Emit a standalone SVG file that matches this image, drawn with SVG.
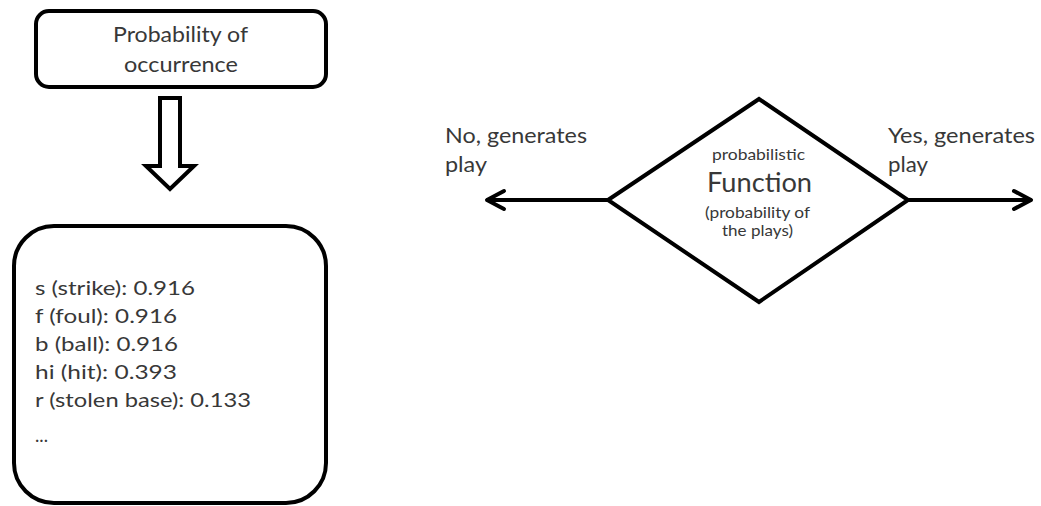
<svg xmlns="http://www.w3.org/2000/svg" width="1041" height="506" viewBox="0 0 1041 506">
  <style>
    .box { fill: #ffffff; stroke: #000000; stroke-width: 4; }
    .line { fill: none; stroke: #000000; stroke-width: 4; stroke-linecap: round; stroke-linejoin: round; }
    .txt { font-family: Lato, "Open Sans", "Liberation Sans", sans-serif; fill: #383838; }
    .lbl { font-size: 21px; }
    .list { font-size: 20px; }
    .small { font-size: 16px; }
    .big { font-size: 26px; }
  </style>
  <rect width="1041" height="506" fill="#ffffff"/>

  <!-- header box -->
  <g id="node-probability">
    <rect class="box" x="36" y="11" width="290" height="76" rx="13" ry="13"/>
    <text class="txt lbl" x="113" y="42" textLength="135" lengthAdjust="spacingAndGlyphs">Probability of</text>
    <text class="txt lbl" x="124" y="72" textLength="114" lengthAdjust="spacingAndGlyphs">occurrence</text>
  </g>

  <!-- hollow block arrow pointing down -->
  <g id="node-down-arrow">
    <path class="box" d="M160 98 L180 98 L180 166 L194 166 L170 189 L146 166 L160 166 Z" stroke-width="3.5" stroke-linejoin="miter"/>
  </g>

  <!-- list of event probabilities -->
  <g id="node-events">
    <rect class="box" x="14" y="226" width="312" height="277" rx="40" ry="40"/>
    <text class="txt list" x="35" y="295" textLength="160" lengthAdjust="spacingAndGlyphs">s (strike): 0.916</text>
    <text class="txt list" x="35" y="323" textLength="142" lengthAdjust="spacingAndGlyphs">f (foul): 0.916</text>
    <text class="txt list" x="35" y="351" textLength="143" lengthAdjust="spacingAndGlyphs">b (ball): 0.916</text>
    <text class="txt list" x="35" y="379" textLength="142" lengthAdjust="spacingAndGlyphs">hi (hit): 0.393</text>
    <text class="txt list" x="35" y="407" textLength="216" lengthAdjust="spacingAndGlyphs">r (stolen base): 0.133</text>
    <text class="txt list" x="35" y="442" textLength="13" lengthAdjust="spacingAndGlyphs">...</text>
  </g>

  <!-- decision diamond -->
  <g id="node-function">
    <polygon class="box" points="608,200 759,99 908,200 759,302"/>
    <text class="txt small" x="712" y="160" textLength="93" lengthAdjust="spacingAndGlyphs">probabilistic</text>
    <text class="txt big" x="707" y="192" textLength="105" lengthAdjust="spacingAndGlyphs">Function</text>
    <text class="txt small" x="705" y="218" textLength="105" lengthAdjust="spacingAndGlyphs">(probability of</text>
    <text class="txt small" x="722" y="236" textLength="71" lengthAdjust="spacingAndGlyphs">the plays)</text>
  </g>

  <!-- outgoing branches -->
  <g id="connectors">
    <line class="line" x1="608" y1="200" x2="488" y2="200"/>
    <polyline class="line" points="504,191 487,200 504,209"/>
    <line class="line" x1="908" y1="200" x2="1030" y2="200"/>
    <polyline class="line" points="1014,191 1031,200 1014,209"/>
  </g>

  <g id="label-no">
    <text class="txt lbl" x="445" y="143" textLength="142" lengthAdjust="spacingAndGlyphs">No, generates</text>
    <text class="txt lbl" x="445" y="172" textLength="42" lengthAdjust="spacingAndGlyphs">play</text>
  </g>
  <g id="label-yes">
    <text class="txt lbl" x="888" y="143" textLength="147" lengthAdjust="spacingAndGlyphs">Yes, generates</text>
    <text class="txt lbl" x="888" y="172" textLength="40" lengthAdjust="spacingAndGlyphs">play</text>
  </g>
</svg>
